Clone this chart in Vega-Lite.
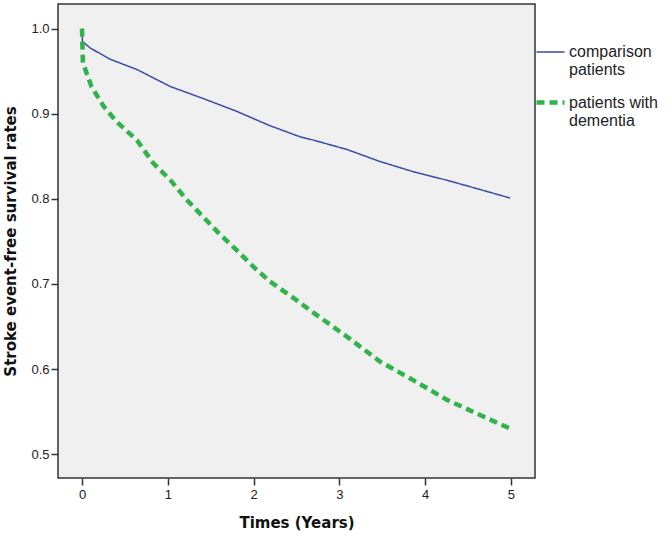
{
  "$schema": "https://vega.github.io/schema/vega-lite/v6.json",
  "width": 477,
  "height": 474,
  "autosize": {"type": "none"},
  "padding": {"left": 58, "top": 4, "right": 137, "bottom": 61},
  "background": "white",
  "config": {
    "font": "Liberation Sans",
    "view": {"fill": "#f0f0f0", "stroke": "#333333", "strokeWidth": 1.5},
    "axis": {
      "grid": false,
      "domain": false,
      "tickColor": "#333333",
      "tickWidth": 1.5,
      "tickSize": 7,
      "labelFont": "Liberation Sans",
      "labelFontSize": 13,
      "labelColor": "#222222",
      "titleFont": "DejaVu Sans",
      "titleFontWeight": "bold",
      "titleFontSize": 15,
      "titleColor": "#111111"
    }
  },
  "data": {
    "values": [
      {"t": 0, "s": 1.0, "g": "comparison patients"},
      {"t": 0.005, "s": 0.985, "g": "comparison patients"},
      {"t": 0.1, "s": 0.977, "g": "comparison patients"},
      {"t": 0.33, "s": 0.964, "g": "comparison patients"},
      {"t": 0.64, "s": 0.952, "g": "comparison patients"},
      {"t": 1.03, "s": 0.932, "g": "comparison patients"},
      {"t": 1.41, "s": 0.918, "g": "comparison patients"},
      {"t": 1.8, "s": 0.903, "g": "comparison patients"},
      {"t": 2.19, "s": 0.886, "g": "comparison patients"},
      {"t": 2.54, "s": 0.873, "g": "comparison patients"},
      {"t": 2.7, "s": 0.869, "g": "comparison patients"},
      {"t": 3.09, "s": 0.858, "g": "comparison patients"},
      {"t": 3.47, "s": 0.844, "g": "comparison patients"},
      {"t": 3.86, "s": 0.832, "g": "comparison patients"},
      {"t": 4.25, "s": 0.822, "g": "comparison patients"},
      {"t": 4.64, "s": 0.811, "g": "comparison patients"},
      {"t": 4.99, "s": 0.801, "g": "comparison patients"},
      {"t": 0, "s": 1.0, "g": "patients with dementia"},
      {"t": 0.01, "s": 0.96, "g": "patients with dementia"},
      {"t": 0.11, "s": 0.932, "g": "patients with dementia"},
      {"t": 0.25, "s": 0.909, "g": "patients with dementia"},
      {"t": 0.4, "s": 0.891, "g": "patients with dementia"},
      {"t": 0.64, "s": 0.869, "g": "patients with dementia"},
      {"t": 0.83, "s": 0.842, "g": "patients with dementia"},
      {"t": 1.03, "s": 0.822, "g": "patients with dementia"},
      {"t": 1.22, "s": 0.799, "g": "patients with dementia"},
      {"t": 1.41, "s": 0.779, "g": "patients with dementia"},
      {"t": 1.61, "s": 0.758, "g": "patients with dementia"},
      {"t": 1.8, "s": 0.74, "g": "patients with dementia"},
      {"t": 2.0, "s": 0.72, "g": "patients with dementia"},
      {"t": 2.19, "s": 0.703, "g": "patients with dementia"},
      {"t": 2.5, "s": 0.681, "g": "patients with dementia"},
      {"t": 2.7, "s": 0.666, "g": "patients with dementia"},
      {"t": 3.09, "s": 0.638, "g": "patients with dementia"},
      {"t": 3.47, "s": 0.609, "g": "patients with dementia"},
      {"t": 3.86, "s": 0.587, "g": "patients with dementia"},
      {"t": 4.25, "s": 0.564, "g": "patients with dementia"},
      {"t": 4.64, "s": 0.546, "g": "patients with dementia"},
      {"t": 4.99, "s": 0.53, "g": "patients with dementia"}
    ]
  },
  "mark": {"type": "line", "strokeCap": "butt"},
  "encoding": {
    "x": {
      "field": "t",
      "type": "quantitative",
      "scale": {"domain": [-0.28, 5.28], "nice": false, "zero": false},
      "axis": {"values": [0, 1, 2, 3, 4, 5], "format": "d", "title": "Times (Years)", "labelPadding": 3, "titlePadding": 14}
    },
    "y": {
      "field": "s",
      "type": "quantitative",
      "scale": {"domain": [0.472, 1.029], "nice": false, "zero": false},
      "axis": {"values": [0.5, 0.6, 0.7, 0.8, 0.9, 1.0], "format": ".1f", "title": "Stroke event-free survival rates", "labelPadding": 2, "titlePadding": 12}
    },
    "color": {
      "field": "g",
      "type": "nominal",
      "scale": {"domain": ["comparison patients", "patients with dementia"], "range": ["#3b4ba3", "#2fb34a"]},
      "legend": {
        "title": null,
        "orient": "none",
        "legendX": 476,
        "legendY": 33,
        "symbolType": "stroke",
        "symbolSize": 784,
        "symbolStrokeWidth": 2.5,
        "labelFont": "Liberation Sans",
        "labelFontSize": 16,
        "labelColor": "#222222",
        "labelLimit": 200,
        "labelOffset": 2,
        "rowPadding": 8,
        "labelExpr": "datum.label == 'comparison patients' ? ['comparison', 'patients'] : ['patients with', 'dementia']"
      }
    },
    "strokeDash": {
      "field": "g",
      "type": "nominal",
      "scale": {"domain": ["comparison patients", "patients with dementia"], "range": [[1, 0], [8, 5]]},
      "legend": null
    },
    "strokeWidth": {
      "field": "g",
      "type": "nominal",
      "scale": {"domain": ["comparison patients", "patients with dementia"], "range": [1.5, 4.5]},
      "legend": null
    }
  }
}
